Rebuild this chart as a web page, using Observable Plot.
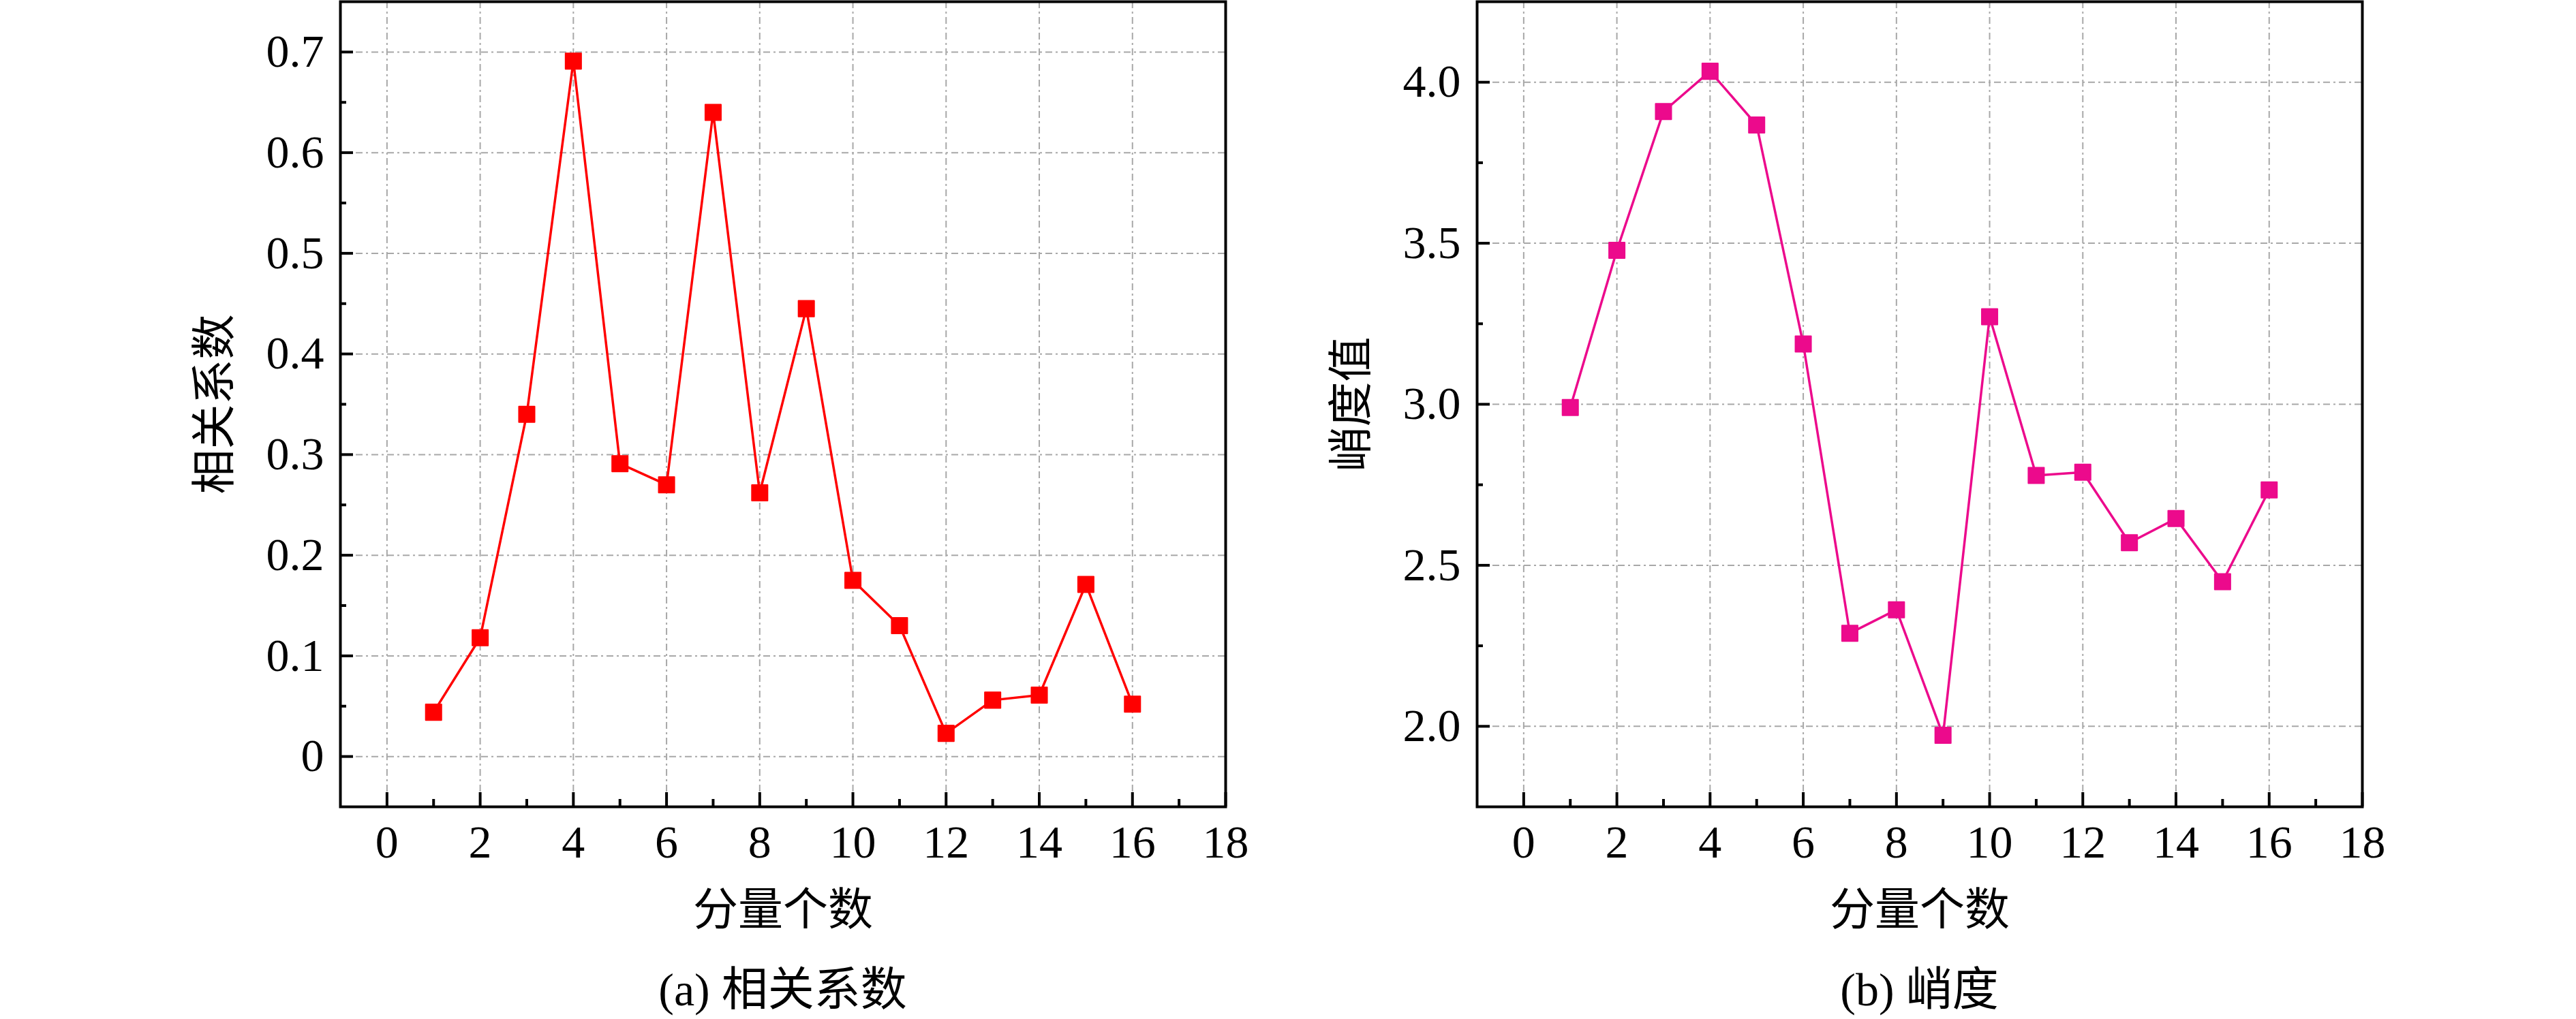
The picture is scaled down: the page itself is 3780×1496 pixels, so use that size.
<!DOCTYPE html>
<html>
<head>
<meta charset="utf-8">
<script src="https://cdn.jsdelivr.net/npm/d3@7"></script>
<script src="https://cdn.jsdelivr.net/npm/@observablehq/plot@0.6"></script>
<style>
  html, body { margin: 0; padding: 0; background: #fff; }
  #wrap { position: relative; width: 3780px; height: 1496px; overflow: hidden; background: #fff; }
  .panel { position: absolute; top: 0; width: 1890px; height: 1496px; }
  .caption { position: absolute; text-align: center; font-family: 'Liberation Serif', 'Noto Sans CJK SC', serif; font-size: 68px; line-height: 68px; color: #000; }
</style>
</head>
<body>
<div id="wrap">
  <div class="panel" id="pa" style="left:0"></div>
  <div class="panel" id="pb" style="left:1890px"></div>
</div>
<script>
// ---- data ----
const components = [1, 2, 3, 4, 5, 6, 7, 8, 9, 10, 11, 12, 13, 14, 15, 16];
const correlation = [0.044, 0.118, 0.340, 0.691, 0.291, 0.270, 0.640, 0.262, 0.445, 0.175, 0.130, 0.023, 0.056, 0.061, 0.171, 0.052];
const kurtosis = [2.990, 3.478, 3.909, 4.034, 3.867, 3.187, 2.289, 2.362, 1.972, 3.272, 2.779, 2.789, 2.570, 2.645, 2.449, 2.734];

const xMajorTicks = [0, 2, 4, 6, 8, 10, 12, 14, 16, 18];
const xMinorTicks = [1, 3, 5, 7, 9, 11, 13, 15, 17];
const xTickLabels = ["0", "2", "4", "6", "8", "10", "12", "14", "16", "18"];

const yTicksA = [0, 0.1, 0.2, 0.3, 0.4, 0.5, 0.6, 0.7];
const yMinorA = [0.05, 0.15, 0.25, 0.35, 0.45, 0.55, 0.65];
const yLabelsA = ["0", "0.1", "0.2", "0.3", "0.4", "0.5", "0.6", "0.7"];

const yTicksB = [2.0, 2.5, 3.0, 3.5, 4.0];
const yMinorB = [2.25, 2.75, 3.25, 3.75];
const yLabelsB = ["2.0", "2.5", "3.0", "3.5", "4.0"];

const xTitle = "分量个数";
const yTitleA = "相关系数";
const yTitleB = "峭度值";
const captionA = "(a) 相关系数";
const captionB = "(b) 峭度";

const colorA = "#ff0000";
const colorB = "#ec0a8c";

const FONT = "'Liberation Serif', 'Noto Sans CJK SC', serif";

function makePanel({values, color, yDomain, yTicks, yMinor, yLabels, yTitle, marginLeft, marginRight}) {
  const W = 1890, H = 1400, mt = 2, mb = 216;
  const frameH = H - mt - mb;
  const frameW = W - marginLeft - marginRight;
  const data = components.map((c, i) => ({x: c, y: values[i]}));
  const xLab = new Map(xMajorTicks.map((t, i) => [t, xTickLabels[i]]));
  const yLab = new Map(yTicks.map((t, i) => [t, yLabels[i]]));
  const grid = {stroke: "#a8a8a8", strokeOpacity: 1, strokeWidth: 2, strokeDasharray: "10,5,3,5"};
  return Plot.plot({
    width: W, height: H,
    marginLeft, marginRight, marginTop: mt, marginBottom: mb,
    x: {domain: [-1, 18]},
    y: {domain: yDomain},
    style: {fontFamily: FONT, color: "#000", background: "#fff", overflow: "visible"},
    marks: [
      Plot.gridX(xMajorTicks.filter(d => d < 18), grid),
      Plot.gridY(yTicks, grid),
      Plot.tickX(xMajorTicks, {x: d => d, stroke: "#000", strokeWidth: 4, insetTop: frameH - 21}),
      Plot.tickX(xMinorTicks, {x: d => d, stroke: "#000", strokeWidth: 4, insetTop: frameH - 11}),
      Plot.tickY(yTicks, {y: d => d, stroke: "#000", strokeWidth: 4, insetRight: frameW - 19}),
      Plot.tickY(yMinor, {y: d => d, stroke: "#000", strokeWidth: 4, insetRight: frameW - 9}),
      Plot.axisX(xMajorTicks, {tickSize: 0, tickPadding: 26, fontSize: 68, fontFamily: FONT, tickFormat: d => xLab.get(d), label: null}),
      Plot.axisY(yTicks, {tickSize: 0, tickPadding: 24, fontSize: 68, fontFamily: FONT, tickFormat: d => yLab.get(d), label: null}),
      Plot.line(data, {x: "x", y: "y", stroke: color, strokeWidth: 3.5}),
      Plot.dot(data, {x: "x", y: "y", symbol: "square", r: 13, fill: color, stroke: color, strokeWidth: 2, strokeLinejoin: "round"}),
      Plot.frame({stroke: "#000", strokeWidth: 4}),
      Plot.text([xTitle], {text: d => d, frameAnchor: "bottom", dy: 152, textAnchor: "middle", lineAnchor: "middle", fontSize: 66, fontFamily: FONT}),
      Plot.text([yTitle], {text: d => d, frameAnchor: "left", dx: -184, rotate: -90, textAnchor: "middle", lineAnchor: "middle", fontSize: 66, fontFamily: FONT})
    ]
  });
}

const a = makePanel({values: correlation, color: colorA, yDomain: [-0.05, 0.75], yTicks: yTicksA, yMinor: yMinorA, yLabels: yLabelsA, yTitle: yTitleA, marginLeft: 499, marginRight: 92});
const b = makePanel({values: kurtosis, color: colorB, yDomain: [1.75, 4.25], yTicks: yTicksB, yMinor: yMinorB, yLabels: yLabelsB, yTitle: yTitleB, marginLeft: 277, marginRight: 314});
document.getElementById("pa").appendChild(a);
document.getElementById("pb").appendChild(b);

function addCaption(parent, text, left, width) {
  const d = document.createElement("div");
  d.className = "caption";
  d.textContent = text;
  d.style.left = left + "px";
  d.style.width = width + "px";
  d.style.top = "1419px";
  parent.appendChild(d);
}
addCaption(document.getElementById("pa"), captionA, 499, 1299);
addCaption(document.getElementById("pb"), captionB, 277, 1299);
</script>
</body>
</html>
